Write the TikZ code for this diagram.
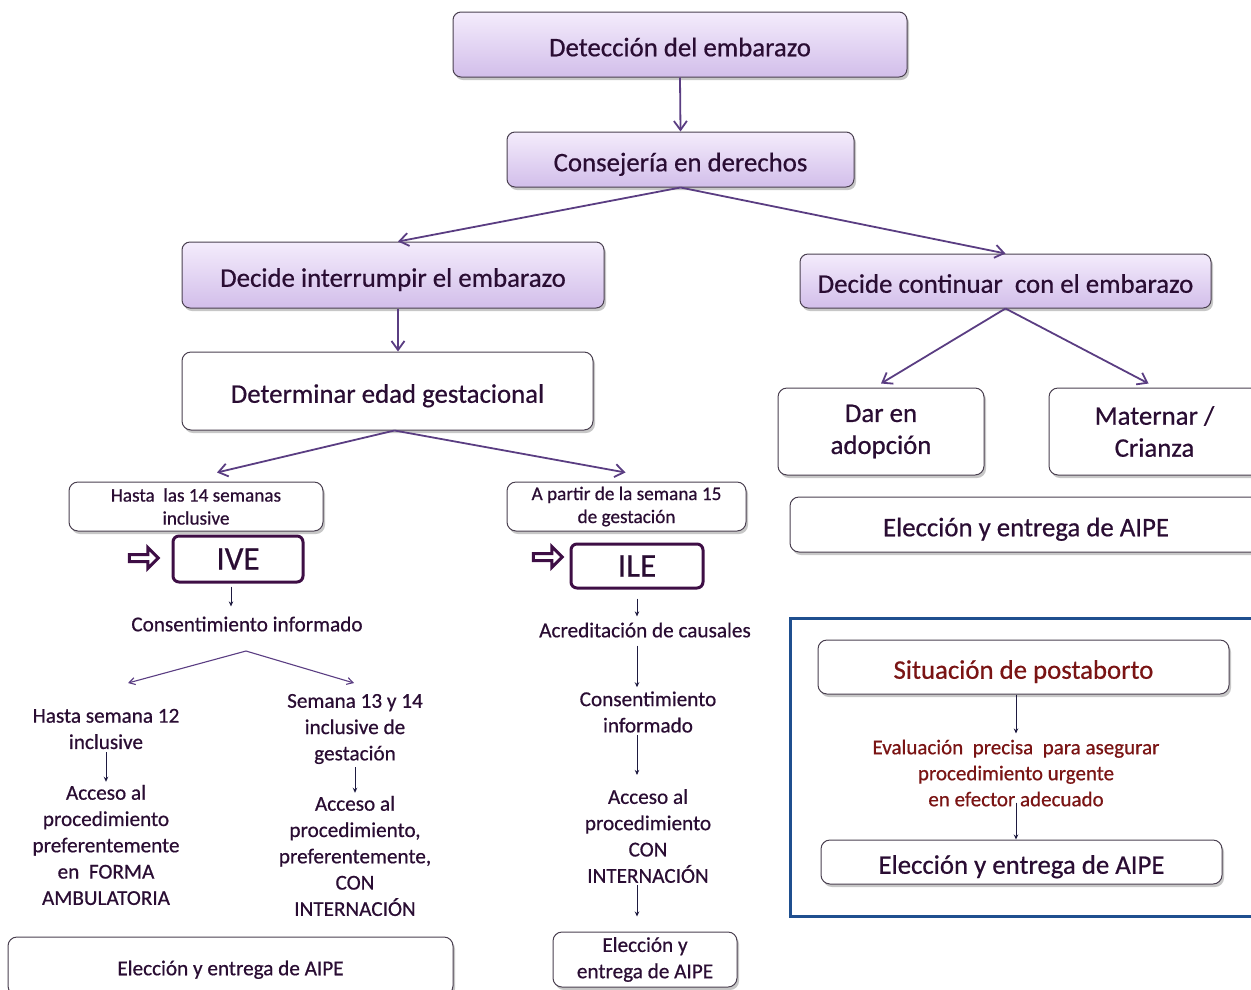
\documentclass[tikz,border=0pt]{standalone}
\usepackage{fontspec}
\setmainfont{Carlito}[RawFeature={embolden=0.6}]
\usetikzlibrary{shadows,arrows.meta,shapes.arrows}
\definecolor{txt}{HTML}{2A0D33}
\definecolor{arr}{HTML}{5A3D82}
\definecolor{bord}{HTML}{4A4050}
\definecolor{ptop}{HTML}{F4ECFC}
\definecolor{pbot}{HTML}{D2BEEA}
\definecolor{ivec}{HTML}{3E0E45}
\definecolor{dred}{HTML}{7A1414}
\definecolor{fblue}{HTML}{1F4F8F}
\definecolor{sarr}{HTML}{1E1A40}
\begin{document}
\begin{tikzpicture}[x=1pt,y=-1pt,
  every node/.style={text=txt, inner sep=2pt},
  shad/.style={drop shadow={shadow xshift=2pt,shadow yshift=-3pt,fill=black,opacity=0.22}},
  one/.style={text height=23.5pt, text depth=0pt},
  onesm/.style={text height=18.5pt, text depth=0pt},
  pbox/.style={draw=bord, line width=1pt, rounded corners=8pt, top color=ptop, bottom color=pbot, shad, one, font=\fontsize{26.8}{30}\selectfont},
  wbox/.style={draw=bord, line width=1pt, rounded corners=9pt, fill=white, shad},
  tbox/.style={draw=ivec, line width=3pt, rounded corners=6pt, fill=white, font=\fontsize{33}{36}\selectfont},
  f24/.style={font=\fontsize{26.8}{32}\selectfont},
  f21/.style={font=\fontsize{21.2}{26.3}\selectfont, align=center},
  f18/.style={font=\fontsize{21}{26}\selectfont, align=center},
  f17/.style={font=\fontsize{19.2}{23}\selectfont, align=center},
  marr/.style={draw=arr, line width=1.8pt, -{Straight Barb[length=9pt,width=13pt,line width=1.8pt]}},
  sarrow/.style={draw=sarr, line width=0.9pt, -{Stealth[length=5pt,width=4.5pt]}},
  blk/.style={single arrow, draw=ivec, line width=3pt, fill=white, minimum height=29pt, minimum width=21pt, single arrow head extend=3pt, inner sep=0pt}
]
\useasboundingbox (0,0) rectangle (1251,989);

% top boxes
\node[pbox, minimum width=454pt, minimum height=65pt] (det) at (680,44.5) {Detección del embarazo};
\node[pbox, minimum width=347pt, minimum height=55pt] (cons) at (680.5,159.5) {Consejería en derechos};
\node[pbox, minimum width=422pt, minimum height=66pt] (dint) at (393,275) {Decide interrumpir el embarazo};
\node[pbox, minimum width=411pt, minimum height=54pt] (dcon) at (1005.5,281) {Decide continuar\ \ con el embarazo};
\node[wbox, f24, one, minimum width=411pt, minimum height=78pt] (edad) at (387.5,391) {Determinar edad gestacional};

% IVE / ILE
\node[wbox, f17, minimum width=254pt, minimum height=49pt] (h14) at (196,506.5) {Hasta\ \ las 14 semanas\\inclusive};
\node[wbox, f17, minimum width=239pt, minimum height=49pt] (a15) at (626.5,506.5) {A partir de la semana 15\\de gestación};
\node[tbox, minimum width=130pt, minimum height=46pt] (ive) at (238,559) {IVE};
\node[tbox, minimum width=132pt, minimum height=44pt] (ile) at (637,566) {ILE};
\node[blk] (bive) at (142,558) {};
\node[blk] (bile) at (546,557) {};

% IVE branch
\node[f21] (ci) at (247,624) {Consentimiento informado};
\coordinate (cisplit) at (246,651);
\node[f21] (h12) at (106,729) {Hasta semana 12\\inclusive};
\node[f21] (acc1) at (106,845) {Acceso al\\procedimiento\\preferentemente\\en\ \ FORMA\\AMBULATORIA};
\node[f21] (s13) at (355,729) {Semana 13 y 14\\inclusive de\\gestación};
\node[f21] (acc2) at (355,856) {Acceso al\\procedimiento,\\preferentemente,\\CON\\INTERNACIÓN};
\node[wbox, f21, onesm, minimum width=445pt, minimum height=58pt] (aipe1) at (230.5,966) {Elección y entrega de AIPE};

% ILE branch
\node[f21] (acr) at (645,630) {Acreditación de causales};
\node[f21] (ci2) at (648,712) {Consentimiento\\informado};
\node[f21] (acc3) at (648,836) {Acceso al\\procedimiento\\CON\\INTERNACIÓN};
\node[wbox, f21, minimum width=184pt, minimum height=55pt] (aipe2) at (645,959.5) {Elección y\\entrega de AIPE};

% continuar branch
\node[wbox, f24, align=center, minimum width=206pt, minimum height=87pt] (adop) at (881,431.5) {Dar en\\adopción};
\node[wbox, f24, align=center, minimum width=211pt, minimum height=87pt] (mat) at (1154.5,431.5) {Maternar /\\Crianza};
\node[wbox, f24, one, minimum width=472pt, minimum height=55pt] (aipe3) at (1026,524.5) {Elección y entrega de AIPE};

% postaborto
\node[draw=fblue, line width=3pt, minimum width=472pt, minimum height=298pt, inner sep=0pt] (frame) at (1026,767) {};
\node[wbox, f24, one, text=dred, draw=bord, minimum width=411pt, minimum height=54pt] (post) at (1023.5,667) {Situación de postaborto};
\node[f18, text=dred] (eval) at (1016,773) {Evaluación\ \ precisa\ \ para asegurar\\procedimiento urgente\\en efector adecuado};
\node[wbox, f24, one, minimum width=401pt, minimum height=44pt] (aipe4) at (1021.5,862) {Elección y entrega de AIPE};

% main arrows
\draw[marr] (det.south) -- (cons.north);
\draw[marr] (cons.south) -- ([xshift=5pt]dint.north);
\draw[marr] (cons.south) -- (dcon.north);
\draw[marr] ([xshift=5pt]dint.south) -- ([xshift=5pt]dint.south |- edad.north);
\draw[marr] ([xshift=7pt]edad.south) -- ([xshift=21pt,yshift=9pt]h14.north);
\draw[marr] ([xshift=7pt]edad.south) -- ([xshift=-1pt,yshift=9pt]a15.north);
\draw[marr] (dcon.south) -- ([yshift=4pt]adop.north);
\draw[marr] (dcon.south) -- ([xshift=-6pt,yshift=4pt]mat.north);

% small arrows
\draw[sarrow] ([xshift=-7pt,yshift=-3pt]ive.south) -- ([xshift=-16pt,yshift=8pt]ci.north);
\draw[draw=arr, line width=1.1pt, -{Straight Barb[length=6pt,width=7pt]}] (cisplit) -- (128,683);
\draw[draw=arr, line width=1.1pt, -{Straight Barb[length=6pt,width=7pt]}] (cisplit) -- (354,683);
\draw[sarrow] ([yshift=-1pt]h12.south) -- ([yshift=1pt]acc1.north);
\draw[sarrow] ([yshift=-1pt]s13.south) -- ([yshift=1pt]acc2.north);
\draw[sarrow] ([xshift=0pt,yshift=-9pt]ile.south) -- ([xshift=-8pt,yshift=4pt]acr.north);
\draw[sarrow] ([xshift=-8pt,yshift=-6pt]acr.south) -- ([xshift=-11pt,yshift=2pt]ci2.north);
\draw[sarrow] ([xshift=-11pt]ci2.south) -- ([xshift=-11pt,yshift=12pt]acc3.north);
\draw[sarrow] ([xshift=-11pt]acc3.south) -- ([xshift=-8pt,yshift=15pt]aipe2.north);
\draw[sarrow] ([xshift=-7.5pt]post.south) -- ([yshift=4pt]eval.north);
\draw[sarrow] ([yshift=6pt]eval.south) -- ([xshift=-5.5pt]aipe4.north);
\end{tikzpicture}
\end{document}
